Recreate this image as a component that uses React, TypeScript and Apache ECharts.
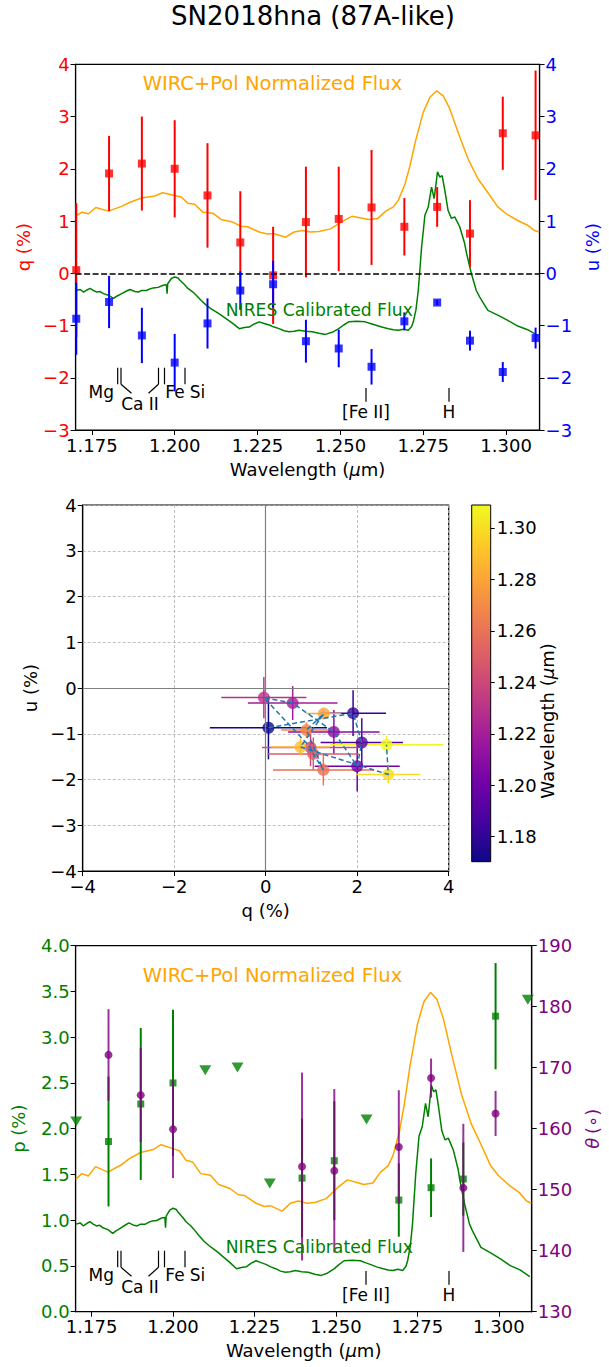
import React, { useEffect, useRef } from 'react';
import * as echarts from 'echarts';

// ---- Spectropolarimetry bins (µm) ----
const wave = [1.1703, 1.1802, 1.1901, 1.2000, 1.2099, 1.2198, 1.2297, 1.2396, 1.2495, 1.2594, 1.2693, 1.2792, 1.2891, 1.2990, 1.3089];
const qVal = [0.06, 1.91, 2.10, 2.00, 1.49, 0.59, -0.04, 0.98, 1.04, 1.26, 0.89, 1.27, 0.76, 2.68, 2.64];
const qErr = [1.28, 0.72, 0.90, 0.93, 1.00, 0.98, 0.93, 1.06, 1.00, 1.10, 0.55, 0.38, 0.64, 0.70, 1.24];
const uVal = [-0.87, -0.55, -1.19, -1.71, -0.96, -0.33, -0.21, -1.30, -1.44, -1.79, -0.92, -0.56, -1.29, -1.89, -1.24];
const uErr = [0.69, 0.50, 0.53, 0.55, 0.48, 0.37, 0.45, 0.41, 0.36, 0.34, 0.17, 0.05, 0.19, 0.19, 0.20];

// ---- Polarization degree / angle ----
const pWave = [1.1802, 1.1901, 1.2000, 1.2396, 1.2495, 1.2693, 1.2792, 1.2891, 1.2990];
const pVal = [1.86, 2.27, 2.50, 1.46, 1.65, 1.22, 1.355, 1.45, 3.23];
const pErr = [0.71, 0.83, 0.80, 0.65, 0.65, 0.40, 0.32, 0.40, 0.58];
const thetaVal = [172.1, 165.5, 159.9, 153.8, 153.1, 157.0, 168.3, 150.3, 162.5];
const thetaErr = [7.5, 7.7, 8.0, 15.4, 13.4, 9.3, 3.2, 10.5, 3.7];
const limWave = [1.1703, 1.2099, 1.2198, 1.2297, 1.2594, 1.3089];
const limP = [2.08, 2.64, 2.67, 1.40, 2.10, 3.41];

// ---- WIRC+Pol normalized flux ----
const wircWave = [1.1702, 1.172, 1.174, 1.1762, 1.180, 1.184, 1.1865, 1.190, 1.194, 1.1963, 1.200, 1.202, 1.204, 1.206, 1.2085, 1.2115, 1.214, 1.2175, 1.220, 1.222, 1.2255, 1.228, 1.2298, 1.2335, 1.236, 1.2385, 1.241, 1.2435, 1.247, 1.2505, 1.2535, 1.257, 1.2585, 1.2613, 1.2637, 1.266, 1.2675, 1.2695, 1.271, 1.2727, 1.275, 1.277, 1.279, 1.281, 1.283, 1.2855, 1.2885, 1.2915, 1.294, 1.2975, 1.300, 1.3035, 1.3065, 1.3085, 1.3100];
const wircFlux = [1.10, 1.17, 1.14, 1.26, 1.19, 1.28, 1.36, 1.44, 1.48, 1.54, 1.49, 1.46, 1.34, 1.32, 1.17, 1.15, 1.03, 0.98, 0.90, 0.89, 0.79, 0.75, 0.76, 0.69, 0.79, 0.82, 0.79, 0.80, 0.85, 0.99, 1.09, 1.05, 1.03, 1.05, 1.19, 1.27, 1.40, 1.71, 2.06, 2.54, 3.08, 3.37, 3.49, 3.40, 3.15, 2.70, 2.19, 1.81, 1.59, 1.27, 1.14, 1.01, 0.92, 0.82, 0.79];

// ---- NIRES calibrated flux ----
const niresWave = [1.1702, 1.1715, 1.1725, 1.1735, 1.1745, 1.1755, 1.1765, 1.1775, 1.1785, 1.180, 1.1815, 1.1825, 1.184, 1.1855, 1.1865, 1.188, 1.189, 1.190, 1.1915, 1.1925, 1.1935, 1.195, 1.1965, 1.1975, 1.1977, 1.1979, 1.199, 1.200, 1.201, 1.2015, 1.203, 1.204, 1.2055, 1.2065, 1.208, 1.2095, 1.211, 1.2125, 1.214, 1.2155, 1.2175, 1.2195, 1.221, 1.2225, 1.224, 1.2255, 1.227, 1.2285, 1.230, 1.2315, 1.233, 1.2345, 1.236, 1.2375, 1.2395, 1.2415, 1.2435, 1.2455, 1.2475, 1.2495, 1.251, 1.2525, 1.255, 1.2575, 1.259, 1.2605, 1.2625, 1.2645, 1.266, 1.2675, 1.269, 1.2705, 1.2715, 1.272, 1.2728, 1.2735, 1.2745, 1.275, 1.2755, 1.2765, 1.2775, 1.2783, 1.2793, 1.280, 1.2807, 1.2815, 1.2825, 1.2835, 1.2845, 1.286, 1.2875, 1.288, 1.2895, 1.291, 1.292, 1.2945, 1.2975, 1.3005, 1.3035, 1.3065, 1.3095];
const niresFlux = [-0.33, -0.31, -0.36, -0.32, -0.29, -0.33, -0.36, -0.35, -0.39, -0.42, -0.48, -0.44, -0.39, -0.34, -0.31, -0.35, -0.36, -0.33, -0.33, -0.30, -0.28, -0.27, -0.23, -0.22, -0.39, -0.20, -0.10, -0.07, -0.09, -0.13, -0.22, -0.29, -0.36, -0.42, -0.52, -0.61, -0.68, -0.74, -0.80, -0.87, -0.96, -1.06, -1.04, -1.03, -0.97, -0.93, -0.96, -0.99, -1.03, -1.06, -1.10, -1.12, -1.11, -1.09, -1.11, -1.12, -1.15, -1.17, -1.13, -1.06, -0.99, -0.93, -0.92, -0.93, -0.96, -0.99, -1.03, -1.06, -1.08, -1.09, -1.07, -1.09, -1.02, -0.93, -0.70, -0.33, 0.50, 0.80, 1.11, 1.27, 1.65, 1.43, 1.94, 1.84, 1.87, 1.59, 1.20, 1.05, 1.08, 0.89, 0.57, 0.40, 0.0, -0.33, -0.45, -0.71, -0.80, -0.90, -1.01, -1.08, -1.19];

const xTicks = [1.175, 1.2, 1.225, 1.25, 1.275, 1.3];
const cbTicks = [1.18, 1.2, 1.22, 1.24, 1.26, 1.28, 1.3];

const plasma = ['#0d0887', '#46039f', '#7201a8', '#9c179e', '#bd3786', '#d8576b', '#ed7953', '#fb9f3a', '#fdca26', '#f0f921'];

const FONT = 'DejaVu Sans';
const ORANGE = '#ffa500';
const GREEN = '#008000';
const PURPLE = '#800080';
const minus = (s: string) => s.replace('-', '\u2212');

function vErr(color: string, lw: number, opacity = 1) {
  return (params: any, api: any) => {
    const x = api.value(0), y = api.value(1), e = api.value(2);
    const a = api.coord([x, y - e]);
    const b = api.coord([x, y + e]);
    return { type: 'line', shape: { x1: a[0], y1: a[1], x2: b[0], y2: b[1] }, style: { stroke: color, lineWidth: lw, opacity } };
  };
}

function gLine(x1: number, y1: number, x2: number, y2: number) {
  return { type: 'line', z: 50, shape: { x1, y1, x2, y2 }, style: { stroke: '#000', lineWidth: 1.2 } };
}
function gText(text: string, x: number, y: number, color = '#000', size = 17, align = 'center') {
  return { type: 'text', z: 50, x, y, style: { text, fill: color, fontSize: size, fontFamily: FONT, align, verticalAlign: 'middle' } };
}

function lineIds(dy: number) {
  const t = 367.7 + dy, b = 384.3 + dy;
  return [
    gLine(117.7, t, 117.7, b), gLine(121, t, 121, b), gLine(121, b, 131.5, b + 9),
    gLine(158.5, t, 158.5, b), gLine(158.5, b, 148.5, b + 9),
    gLine(164.5, t, 164.5, b), gLine(185, t, 185, b),
    gText('Mg', 101.3, 392 + dy), gText('Ca II', 140, 403.5 + dy), gText('Fe', 175, 392 + dy), gText('Si', 197.5, 392 + dy),
    gLine(366, 388 + dy, 366, 401.7 + dy), gText('[Fe II]', 366, 412 + dy),
    gLine(449, 388 + dy, 449, 401.7 + dy), gText('H', 449, 412 + dy),
  ];
}

const wlName = (color = '#000') => ({
  name: '{a|Wavelength (}{b|μ}{a|m)}',
  nameLocation: 'middle',
  nameTextStyle: { rich: { a: { fontSize: 18, fontFamily: FONT, color }, b: { fontSize: 18, fontFamily: FONT, color, fontStyle: 'italic' } } },
});

function waveAxis(gridIndex: number) {
  return {
    type: 'value', gridIndex, min: 1.1701, max: 1.3101,
    ...wlName(), nameGap: 30,
    axisLine: { onZero: false, lineStyle: { color: '#000', width: 1.2 } },
    axisTick: { length: 5, lineStyle: { color: '#000' }, customValues: xTicks },
    axisLabel: { customValues: xTicks, fontSize: 18, color: '#000', fontFamily: FONT, margin: 6, formatter: (v: number) => v.toFixed(3) },
    splitLine: { show: false },
  };
}

function yAxisDef(gridIndex: number, position: string, min: number, max: number, interval: number, color: string, name: any, fmt: (v: number) => string, nameGap: number) {
  return {
    type: 'value', gridIndex, position, min, max, interval,
    name: name.text, nameLocation: 'middle', nameGap,
    nameTextStyle: name.style,
    axisLine: { show: true, onZero: false, lineStyle: { color: '#000', width: 1.2 } },
    axisTick: { show: true, length: 5, lineStyle: { color: '#000' } },
    axisLabel: { fontSize: 18, color, fontFamily: FONT, margin: 6, formatter: fmt },
    splitLine: { show: false },
  };
}

const plainName = (text: string, color: string) => ({ text, style: { fontSize: 18, color, fontFamily: FONT } });

export default function App() {
  const ref = useRef<HTMLDivElement>(null);
  useEffect(() => {
    document.body.style.margin = '0';
    const chart = echarts.init(ref.current!, null, { renderer: 'svg' });

    const qData = wave.map((w, i) => [w, qVal[i], qErr[i]]);
    const uData = wave.map((w, i) => [w, uVal[i], uErr[i]]);
    const quData = wave.map((w, i) => [qVal[i], uVal[i], w, qErr[i], uErr[i]]);
    const pData = pWave.map((w, i) => [w, pVal[i], pErr[i]]);
    const tData = pWave.map((w, i) => [w, thetaVal[i], thetaErr[i]]);
    const wircData = wircWave.map((w, i) => [w, wircFlux[i]]);
    const niresData = niresWave.map((w, i) => [w, niresFlux[i]]);

    const gridBox = { show: true, borderColor: '#000', borderWidth: 1.2, backgroundColor: 'transparent' };

    const option: any = {
      animation: false,
      textStyle: { fontFamily: FONT },
      grid: [
        { left: 75.6, top: 64.3, width: 466.4, height: 365.7, ...gridBox },
        { left: 82.7, top: 505, width: 366, height: 366, ...gridBox },
        { left: 75.6, top: 945.7, width: 466.4, height: 366, ...gridBox },
        { left: 471.7, top: 505, width: 19, height: 356.7, show: false },
      ],
      xAxis: [
        waveAxis(0),
        {
          type: 'value', gridIndex: 1, min: -4, max: 4, interval: 2,
          name: 'q (%)', nameLocation: 'middle', nameGap: 30, nameTextStyle: { fontSize: 18, color: '#000', fontFamily: FONT },
          axisLine: { onZero: false, lineStyle: { color: '#000', width: 1.2 } },
          axisTick: { length: 5, lineStyle: { color: '#000' } },
          axisLabel: { fontSize: 18, color: '#000', fontFamily: FONT, margin: 6, formatter: (v: number) => minus(String(v)) },
          splitLine: { show: true, lineStyle: { color: '#b0b0b0', type: [3, 2], width: 0.8 } },
        },
        waveAxis(2),
        { type: 'value', gridIndex: 3, min: 0, max: 1, show: false },
      ],
      yAxis: [
        yAxisDef(0, 'left', -3, 4, 1, 'red', plainName('q (%)', 'red'), (v) => minus(String(v)), 38),
        yAxisDef(0, 'right', -3, 4, 1, 'blue', plainName('u (%)', 'blue'), (v) => minus(String(v)), 36),
        {
          ...yAxisDef(1, 'left', -4, 4, 1, '#000', plainName('u (%)', '#000'), (v) => minus(String(v)), 36),
          splitLine: { show: true, lineStyle: { color: '#b0b0b0', type: [3, 2], width: 0.8 } },
        },
        yAxisDef(2, 'left', 0, 4, 0.5, GREEN, plainName('p (%)', GREEN), (v) => v.toFixed(1), 48),
        yAxisDef(2, 'right', 130, 190, 10, PURPLE, {
          text: '{i|θ} {a|(∘)}',
          style: { rich: { i: { fontSize: 18, color: PURPLE, fontStyle: 'italic', fontFamily: FONT }, a: { fontSize: 18, color: PURPLE, fontFamily: FONT } } },
        }, (v) => String(v), 48),
        { type: 'value', gridIndex: 2, min: -0.597, max: 4.087, show: false },
        { type: 'value', gridIndex: 2, min: -1.765, max: 4.233, show: false },
        {
          type: 'value', gridIndex: 3, position: 'right', min: 1.1703, max: 1.3089,
          axisLine: { show: false, onZero: false },
          axisTick: { show: true, length: 4, lineStyle: { color: '#000' }, customValues: cbTicks },
          axisLabel: { customValues: cbTicks, fontSize: 18, color: '#000', fontFamily: FONT, margin: 6, formatter: (v: number) => v.toFixed(2) },
          splitLine: { show: false },
        },
      ],
      visualMap: {
        type: 'continuous', show: false, min: 1.1703, max: 1.3089, dimension: 2,
        seriesIndex: [8, 9], inRange: { color: plasma },
      },
      series: [
        { type: 'line', xAxisIndex: 0, yAxisIndex: 0, data: wircData, symbol: 'none', lineStyle: { color: ORANGE, width: 1.5 }, z: 2 },
        {
          type: 'line', xAxisIndex: 0, yAxisIndex: 0, data: niresData, symbol: 'none', lineStyle: { color: GREEN, width: 1.5 }, z: 2,
          markLine: { silent: true, symbol: 'none', label: { show: false }, lineStyle: { color: '#000', type: [6, 2.5], width: 1.5 }, data: [{ yAxis: 0 }] },
        },
        { type: 'custom', xAxisIndex: 0, yAxisIndex: 0, data: qData, encode: { x: 0, y: 1 }, renderItem: vErr('red', 2), z: 3 },
        { type: 'scatter', xAxisIndex: 0, yAxisIndex: 0, data: qData, symbol: 'rect', symbolSize: 8, itemStyle: { color: 'red' }, z: 4 },
        { type: 'custom', xAxisIndex: 0, yAxisIndex: 1, data: uData, encode: { x: 0, y: 1 }, renderItem: vErr('blue', 2), z: 5 },
        { type: 'scatter', xAxisIndex: 0, yAxisIndex: 1, data: uData, symbol: 'rect', symbolSize: 8, itemStyle: { color: 'blue' }, z: 6 },
        {
          type: 'line', xAxisIndex: 1, yAxisIndex: 2, data: [], symbol: 'none', z: 2,
          markLine: { silent: true, symbol: 'none', label: { show: false }, lineStyle: { color: '#808080', type: 'solid', width: 1.2 }, data: [{ xAxis: 0 }, { yAxis: 0 }] },
        },
        { type: 'line', xAxisIndex: 1, yAxisIndex: 2, data: quData.map((d) => [d[0], d[1]]), symbol: 'none', lineStyle: { color: '#1f77b4', type: [5, 3], width: 1.5 }, z: 6 },
        {
          type: 'custom', xAxisIndex: 1, yAxisIndex: 2, data: quData, encode: { x: 0, y: 1 }, z: 3,
          renderItem: (params: any, api: any) => {
            const q = api.value(0), u = api.value(1), qe = api.value(3), ue = api.value(4);
            const c = api.visual('color');
            const a = api.coord([q - qe, u]), b = api.coord([q + qe, u]);
            const c1 = api.coord([q, u - ue]), c2 = api.coord([q, u + ue]);
            return {
              type: 'group', children: [
                { type: 'line', shape: { x1: a[0], y1: a[1], x2: b[0], y2: b[1] }, style: { stroke: c, lineWidth: 1.5 } },
                { type: 'line', shape: { x1: c1[0], y1: c1[1], x2: c2[0], y2: c2[1] }, style: { stroke: c, lineWidth: 1.5 } },
              ],
            };
          },
        },
        { type: 'scatter', xAxisIndex: 1, yAxisIndex: 2, data: quData, symbol: 'circle', symbolSize: 12, z: 4 },
        { type: 'line', xAxisIndex: 2, yAxisIndex: 5, data: wircData, symbol: 'none', lineStyle: { color: ORANGE, width: 1.5 }, z: 2 },
        { type: 'line', xAxisIndex: 2, yAxisIndex: 6, data: niresData, symbol: 'none', lineStyle: { color: GREEN, width: 1.5 }, z: 2 },
        { type: 'custom', xAxisIndex: 2, yAxisIndex: 3, data: pData, encode: { x: 0, y: 1 }, renderItem: vErr(GREEN, 2), z: 3 },
        { type: 'scatter', xAxisIndex: 2, yAxisIndex: 3, data: pData, symbol: 'rect', symbolSize: 7, itemStyle: { color: GREEN }, z: 4 },
        { type: 'scatter', xAxisIndex: 2, yAxisIndex: 3, data: limWave.map((w, i) => [w, limP[i]]), symbol: 'triangle', symbolRotate: 180, symbolSize: [12, 10], itemStyle: { color: GREEN }, z: 4 },
        { type: 'custom', xAxisIndex: 2, yAxisIndex: 4, data: tData, encode: { x: 0, y: 1 }, renderItem: vErr(PURPLE, 2, 0.8), z: 5 },
        { type: 'scatter', xAxisIndex: 2, yAxisIndex: 4, data: tData, symbol: 'circle', symbolSize: 8, itemStyle: { color: PURPLE }, z: 6 },
      ],
      graphic: [
        { type: 'text', x: 313, y: 16, style: { text: 'SN2018hna (87A-like)', fontSize: 26, fontFamily: FONT, fill: '#000', align: 'center', verticalAlign: 'middle' } },
        gText('WIRC+Pol Normalized Flux', 142.7, 83, ORANGE, 19.5, 'left'),
        gText('NIRES Calibrated Flux', 225.7, 310, GREEN, 17.2, 'left'),
        gText('WIRC+Pol Normalized Flux', 142.7, 975, ORANGE, 19.5, 'left'),
        gText('NIRES Calibrated Flux', 225.7, 1247, GREEN, 17.2, 'left'),
        ...lineIds(0),
        ...lineIds(883),
        {
          type: 'text', x: 547, y: 721, rotation: Math.PI / 2,
          style: {
            text: '{a|Wavelength (}{b|μ}{a|m)}', align: 'center', verticalAlign: 'middle',
            rich: { a: { fontSize: 18, fontFamily: FONT, fill: '#000' }, b: { fontSize: 18, fontFamily: FONT, fill: '#000', fontStyle: 'italic' } },
          },
        },
        {
          type: 'rect', x: 471.7, y: 505, shape: { width: 19, height: 356.7 },
          style: {
            fill: new echarts.graphic.LinearGradient(0, 1, 0, 0, plasma.map((c, i) => ({ offset: i / (plasma.length - 1), color: c }))),
            stroke: '#000', lineWidth: 1,
          },
        },
      ],
    };
    chart.setOption(option);
    return () => chart.dispose();
  }, []);
  return <div ref={ref} style={{ width: 609, height: 1367 }} />;
}
